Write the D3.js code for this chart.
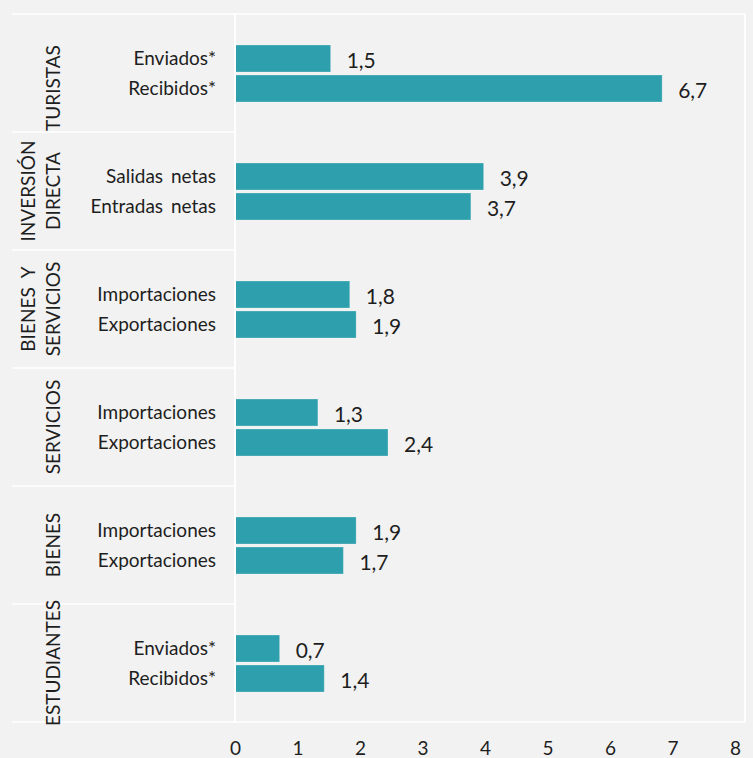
<!DOCTYPE html>
<html>
<head>
<meta charset="utf-8">
<script src="https://cdn.jsdelivr.net/npm/d3@7"></script>
<style>
  html, body { margin: 0; padding: 0; background: #f2f2f2; }
  svg { display: block; }
  text { font-family: Lato, "Open Sans", sans-serif; fill: #1e1e1e; }
</style>
</head>
<body>
<svg id="chart" width="753" height="758"></svg>
<script>
// ---- data ----
const groups = ["TURISTAS", "INVERSIÓN DIRECTA", "BIENES Y SERVICIOS", "SERVICIOS", "BIENES", "ESTUDIANTES"];
const groupLines = [["TURISTAS"], ["INVERSIÓN", "DIRECTA"], ["BIENES Y", "SERVICIOS"], ["SERVICIOS"], ["BIENES"], ["ESTUDIANTES"]];
const labelsFirst = ["Enviados*", "Salidas netas", "Importaciones", "Importaciones", "Importaciones", "Enviados*"];
const labelsSecond = ["Recibidos*", "Entradas netas", "Exportaciones", "Exportaciones", "Exportaciones", "Recibidos*"];
const valuesFirst = [1.5, 3.9, 1.8, 1.3, 1.9, 0.7];
const valuesSecond = [6.7, 3.7, 1.9, 2.4, 1.7, 1.4];
const tickValues = [0, 1, 2, 3, 4, 5, 6, 7, 8];

// ---- layout ----
const W = 753, H = 758;
const plotL = 235, plotR = 745, plotT = 14, plotB = 722;
const svg = d3.select("#chart");

const rows = [];
groups.forEach((g, i) => {
  rows.push({ group: g, slot: 0, label: labelsFirst[i], value: valuesFirst[i] });
  rows.push({ group: g, slot: 1, label: labelsSecond[i], value: valuesSecond[i] });
});

const x = d3.scaleLinear().domain([0, 8]).range([plotL, plotR]);
const xAxisScale = d3.scaleLinear().domain([0, 8]).range([plotL, 735]);
const y = d3.scaleBand().domain(groups).range([plotT, plotB]).padding(0);
const ySub = d3.scaleBand().domain([0, 1]).range([31, 88]).paddingInner(0.1);

const fmt = v => d3.format(".1f")(v).replace(".", ",");

// background
svg.append("rect").attr("width", W).attr("height", H).attr("fill", "#f2f2f2");

// bars
svg.append("g").selectAll("rect").data(rows).join("rect")
  .attr("x", x(0))
  .attr("y", d => y(d.group) + ySub(d.slot))
  .attr("width", d => x(d.value) - x(0))
  .attr("height", ySub.bandwidth())
  .attr("fill", "#2e9fac")
  .attr("stroke", "rgba(255,255,255,0.25)")
  .attr("stroke-width", 1);

// frame lines
const lines = svg.append("g").attr("stroke", "#ffffff").attr("fill", "none");
lines.append("line").attr("x1", plotL).attr("x2", plotL).attr("y1", plotT).attr("y2", plotB).attr("stroke-width", 2);
lines.append("line").attr("x1", plotR).attr("x2", plotR).attr("y1", plotT).attr("y2", plotB).attr("stroke-width", 2);
const bounds = groups.map(g => y(g)).concat([plotB]);
lines.selectAll("line.sep").data(bounds).join("line").attr("class", "sep")
  .attr("x1", 12)
  .attr("x2", (d, i) => (i === 0 || i === bounds.length - 1) ? plotR : plotL)
  .attr("y1", d => d).attr("y2", d => d)
  .attr("stroke-width", 1.5);

// category labels
svg.append("g").selectAll("text").data(rows).join("text")
  .attr("x", 216)
  .attr("y", d => y(d.group) + ySub(d.slot) + ySub.bandwidth() / 2)
  .attr("dy", "0.36em")
  .attr("text-anchor", "end")
  .attr("font-size", 19)
  .attr("word-spacing", 3)
  .text(d => d.label);

// value labels
svg.append("g").selectAll("text").data(rows).join("text")
  .attr("x", d => x(d.value) + 16)
  .attr("y", d => y(d.group) + ySub(d.slot) + ySub.bandwidth() / 2 + 9)
  .attr("font-size", 21)
  .text(d => fmt(d.value));

// group labels (rotated)
const gl = svg.append("g").selectAll("g").data(groups).join("g")
  .attr("transform", (g, i) => `translate(0, ${y(g) + y.bandwidth() / 2 + (i === 0 ? 15 : 0)}) rotate(-90)`);
gl.each(function (g, i) {
  const ls = groupLines[i];
  const sel = d3.select(this);
  ls.forEach((t, j) => {
    const baseX = ls.length === 1 ? 60 : (j === 0 ? 35 : 60);
    sel.append("text")
      .attr("x", 0)
      .attr("y", baseX)
      .attr("text-anchor", "middle")
      .attr("font-size", 19)
      .attr("word-spacing", 5)
      .text(t);
  });
});

// x axis
const axis = d3.axisBottom(xAxisScale).tickValues(tickValues).tickSize(0).tickFormat(d => d);
const ag = svg.append("g").attr("transform", `translate(0, ${plotB})`).call(axis);
ag.select(".domain").remove();
ag.selectAll("text")
  .attr("y", 33)
  .attr("dy", 0)
  .attr("font-size", 19)
  .style("font-family", "Lato, 'Open Sans', sans-serif")
  .attr("fill", "#1e1e1e");
</script>
</body>
</html>
